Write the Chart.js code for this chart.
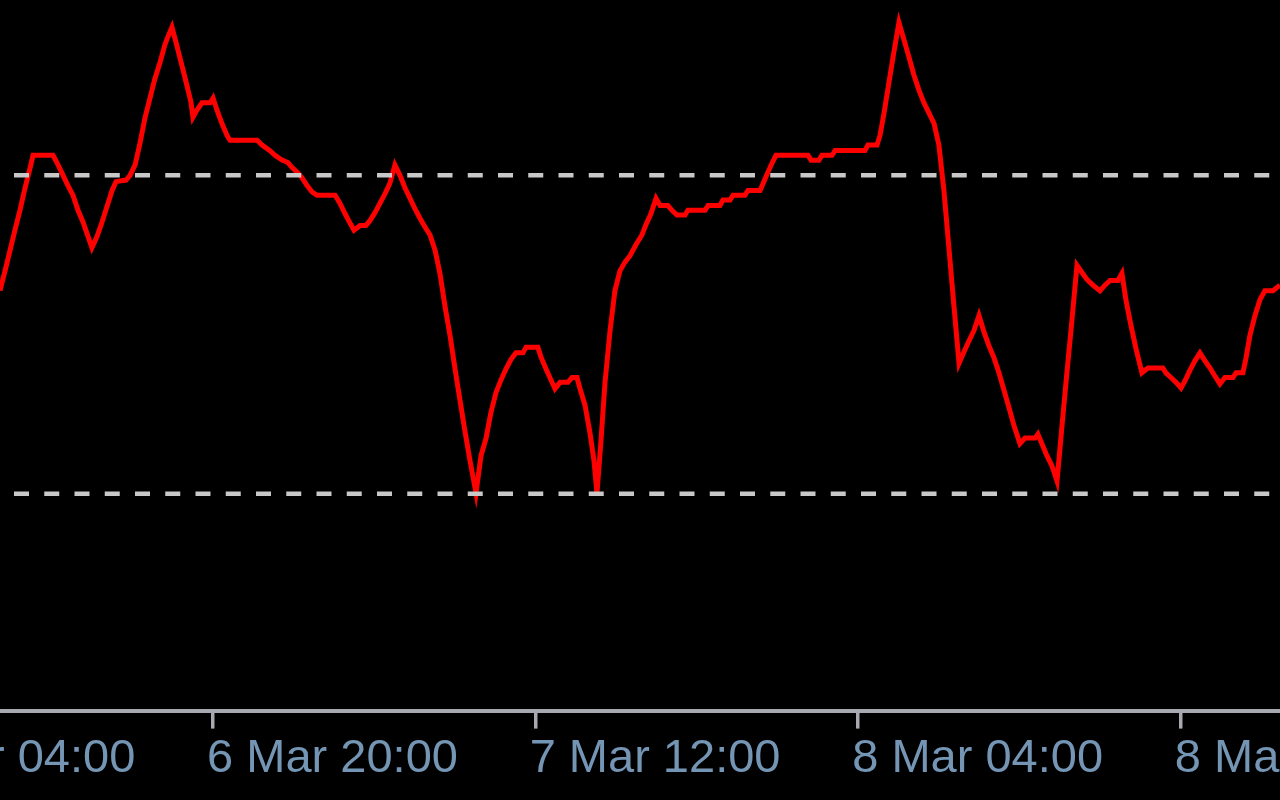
<!DOCTYPE html>
<html>
<head>
<meta charset="utf-8">
<script src="https://cdn.jsdelivr.net/npm/chart.js@4"></script>
<style>
  html, body { margin: 0; padding: 0; background: #000; }
  #wrap { width: 1280px; height: 800px; position: relative; }
</style>
</head>
<body>
<div id="wrap"><canvas id="chart"></canvas></div>
<script>
// M15 oscillator, x = hours since 6 Mar 04:00
const times = [5.43,5.68,5.93,6.17,6.42,6.67,6.92,7.07,8.06,8.31,8.56,8.80,9.05,9.30,9.55,9.80,9.99,10.24,10.49,10.74,10.99,11.18,11.68,11.88,12.13,12.37,12.62,12.87,13.12,13.37,
  13.61,13.76,13.96,14.16,14.41,14.66,14.90,15.00,15.20,15.45,15.85,16.00,16.19,16.44,16.69,16.84,18.18,18.43,18.82,19.07,19.42,19.71,19.91,20.16,20.41,20.66,20.91,21.15,
  22.05,22.29,22.54,22.79,22.99,23.29,23.58,23.78,24.03,24.28,24.53,24.77,25.02,25.27,25.52,25.77,26.01,26.26,26.51,26.76,27.01,27.25,27.50,27.75,28.00,28.25,28.49,28.74,29.04,
  29.29,29.54,29.78,30.03,30.28,30.53,30.78,31.02,31.37,31.52,32.11,32.26,32.51,32.76,32.96,33.21,33.60,33.80,34.05,34.20,34.45,34.69,34.89,35.04,35.24,35.44,35.69,35.93,36.18,36.43,36.68,36.98,
  37.27,37.47,37.72,37.97,38.17,38.56,38.76,39.01,39.41,39.55,40.40,40.55,41.14,41.29,41.64,41.79,42.38,42.53,43.13,43.27,43.47,43.72,43.92,
  45.51,45.66,46.05,46.20,46.70,46.85,48.33,48.48,48.93,49.08,49.28,49.52,49.77,50.02,50.27,50.52,50.76,51.01,51.26,51.51,51.76,52.00,52.25,52.50,52.75,53.00,
  53.29,53.49,53.74,53.99,54.24,54.48,54.73,54.98,55.23,55.48,55.72,56.02,56.27,56.77,56.91,57.11,57.36,57.61,57.86,58.11,58.35,58.60,58.85,59.10,59.35,59.64,59.99,60.24,60.49,60.88,
  61.08,61.28,61.53,61.78,62.07,62.37,63.11,63.26,63.51,63.76,64.01,64.21,64.45,64.70,64.95,65.20,65.45,65.69,65.94,66.19,66.59,66.74,67.08,67.23,67.43,67.68,67.93,68.17,68.57,68.92];

const values = [55.5,58.0,60.6,63.1,65.6,68.4,70.9,72.5,72.5,71.3,70.0,68.7,67.5,65.6,64.1,62.3,60.9,62.3,64.1,66.1,68.1,69.2,69.4,70.0,71.3,74.0,77.2,79.7,82.2,84.2,
  86.4,87.4,88.6,86.7,84.2,81.7,79.2,77.3,78.2,79.1,79.1,79.7,78.2,76.5,75.0,74.4,74.4,73.8,73.1,72.5,71.9,71.6,71.0,70.4,69.7,68.7,67.9,67.5,
  67.5,66.5,65.2,64.0,63.1,63.7,63.7,64.3,65.3,66.5,67.7,69.0,71.3,70.0,68.4,67.1,65.8,64.6,63.5,62.5,60.6,57.7,53.6,49.9,45.7,41.7,37.9,34.2,30.1,
  34.8,37.0,40.2,42.7,44.3,45.7,46.9,47.7,47.7,48.4,48.4,47.2,45.7,44.3,43.2,44.0,44.0,44.6,44.6,43.2,41.1,37.7,34.2,30.1,36.7,44.0,50.5,55.5,58.0,59.1,59.9,61.3,
  62.5,63.8,65.2,67.1,66.2,66.2,65.6,65.0,65.0,65.6,65.6,66.2,66.2,66.9,66.9,67.5,67.5,68.1,68.1,68.9,70.1,71.5,72.5,
  72.5,71.9,71.9,72.5,72.5,73.1,73.1,73.8,73.8,75.0,77.8,81.6,85.5,89.2,87.0,84.8,82.6,80.7,79.1,77.8,76.5,73.8,68.1,60.8,53.5,46.4,
  48.1,49.2,50.5,52.4,50.3,48.6,47.1,45.2,43.0,40.8,38.6,36.3,37.0,37.0,37.5,36.3,34.8,33.5,31.6,38.6,45.2,51.8,58.7,57.8,56.9,56.2,55.5,56.2,56.8,56.8,
  57.7,54.3,51.1,48.2,45.2,45.8,45.8,45.2,44.6,44.0,43.3,44.2,45.5,46.7,47.7,46.7,45.8,44.8,43.8,44.6,44.6,45.2,45.2,47.0,49.9,52.4,54.4,55.5,55.5,56.2];

const levels = [70, 30];
const tickHours = [0, 16, 32, 48, 64];
const tickLabels = ["6 Mar 04:00", "6 Mar 20:00", "7 Mar 12:00", "8 Mar 04:00", "8 Mar 20:00"];

const xMin = 5.43, xMax = 68.92;

let datasets = [];
levels.forEach(lv => {
    datasets.push({
        data: [{x: xMin, y: lv}, {x: xMax, y: lv}],
        borderColor: "#c8c8c8",
        borderWidth: 4.5,
        borderDash: [15, 15.25],
        borderDashOffset: 16.25,
        pointRadius: 0,
        borderCapStyle: "butt",
    });
});
datasets.push({
    data: times.map((t, i) => ({x: t, y: values[i]})),
    borderColor: "#ff0000",
    borderWidth: 5,
    pointRadius: 0,
    tension: 0,
    borderJoinStyle: "miter",
});

const axisGray = "#a8a8b0";

new Chart(document.getElementById("chart").getContext("2d"), {
    type: "line",
    data: { datasets: datasets },
    options: {
        responsive: true,
        maintainAspectRatio: false,
        animation: false,
        devicePixelRatio: 1,
        layout: { autoPadding: false, padding: { left: 0, right: 0, top: 0, bottom: 11 } },
        plugins: { legend: { display: false }, tooltip: { enabled: false } },
        scales: {
            x: {
                type: "linear",
                position: "bottom",
                min: xMin,
                max: xMax,
                afterBuildTicks: scale => {
                    scale.ticks = tickHours.map(v => ({value: v}));
                },
                afterFit: scale => {
                    // labels run off the edges like the original, no extra room
                    scale.paddingLeft = 0;
                    scale.paddingRight = 0;
                },
                grid: { drawOnChartArea: false, drawTicks: true, tickLength: 18, color: axisGray, lineWidth: 3.5 },
                border: { display: true, color: axisGray, width: 4 },
                ticks: {
                    autoSkip: false,
                    maxRotation: 0,
                    minRotation: 0,
                    align: "start",
                    labelOffset: -6,
                    padding: 2,
                    color: "#7595b5",
                    font: { family: "'Liberation Sans', Arial, sans-serif", size: 47 },
                    callback: (v) => {
                        const i = tickHours.indexOf(v);
                        return i >= 0 ? tickLabels[i] : "";
                    }
                }
            },
            y: {
                display: false,
                min: 2.78,
                max: 92.01,
            }
        }
    }
});
</script>
</body>
</html>
